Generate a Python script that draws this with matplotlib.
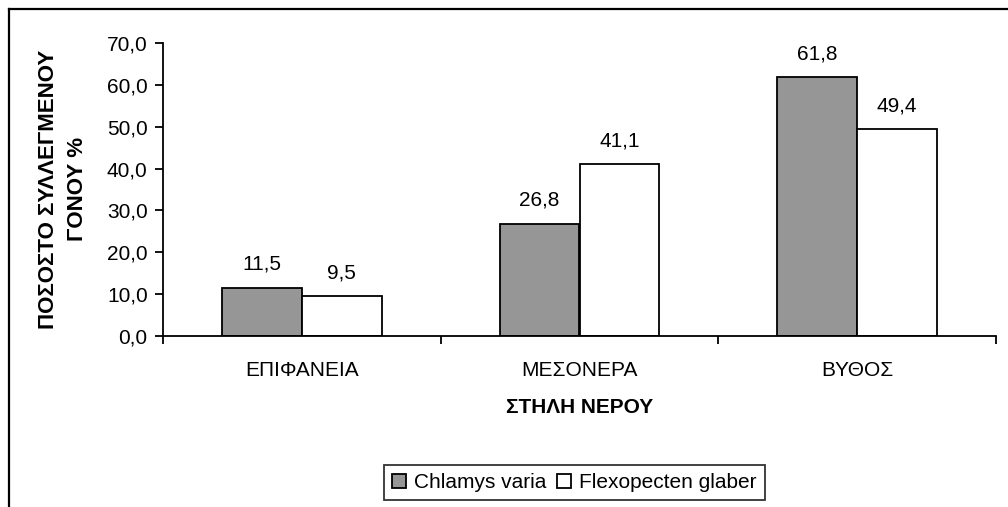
import numpy as np
import matplotlib
matplotlib.use("Agg")
import matplotlib.pyplot as plt
from matplotlib.lines import Line2D
from matplotlib.ticker import FuncFormatter, FixedLocator

plt.rcParams['font.family'] = ['Liberation Sans', 'DejaVu Sans']

# data
categories = ["ΕΠΙΦΑΝΕΙΑ", "ΜΕΣΟΝΕΡΑ", "ΒΥΘΟΣ"]
chlamys = [11.5, 26.8, 61.8]
flexopecten = [9.5, 41.1, 49.4]
series_names = ["Chlamys varia", "Flexopecten glaber"]

FS = 15
W = 0.288

fig = plt.figure(figsize=(10.08, 5.07), dpi=100)
ax = fig.add_axes([163 / 1008, 1 - 336 / 507, (996 - 163) / 1008, (336 - 43) / 507])

x = np.arange(len(categories))
b1 = ax.bar(x - W / 2, chlamys, W, color="#969696", edgecolor="black", linewidth=1.3,
            label=series_names[0])
b2 = ax.bar(x + W / 2, flexopecten, W, color="white", edgecolor="black", linewidth=1.3,
            label=series_names[1])

comma = lambda v: f"{v:.1f}".replace(".", ",")
ax.bar_label(b1, labels=[comma(v) for v in chlamys], padding=10, fontsize=FS)
ax.bar_label(b2, labels=[comma(v) for v in flexopecten], padding=10, fontsize=FS)

ax.set_xlim(-0.5, len(categories) - 0.5)
ax.set_ylim(0, 70)
ax.set_yticks(np.arange(0, 71, 10))
ax.yaxis.set_major_formatter(FuncFormatter(lambda v, p: comma(v)))
ax.tick_params(axis="y", direction="out", length=6, width=1.3, labelsize=FS, pad=5)

ax.set_xticks(x)
ax.set_xticklabels(categories)
ax.xaxis.set_minor_locator(FixedLocator(np.arange(-0.5, len(categories), 1.0)))
ax.tick_params(axis="x", which="major", length=0, labelsize=FS, pad=18)
ax.tick_params(axis="x", which="minor", direction="out", length=6, width=1.3)

for s in ["top", "right"]:
    ax.spines[s].set_visible(False)
for s in ["left", "bottom"]:
    ax.spines[s].set_linewidth(1.3)

ax.set_xlabel("ΣΤΗΛΗ ΝΕΡΟΥ", fontsize=FS, fontweight="bold", labelpad=13)
fig.text(63 / 1008, 1 - 189 / 507, "ΠΟΣΟΣΤΟ ΣΥΛΛΕΓΜΕΝΟΥ\nΓΟΝΟΥ %", rotation=90,
         ha="center", va="center", multialignment="center", fontsize=16,
         fontweight="bold", linespacing=1.45)

leg = fig.legend(loc="center", bbox_to_anchor=(574.5 / 1008, 1 - 482.5 / 507), ncol=2,
                 fontsize=FS, frameon=True, fancybox=False, handlelength=0.65,
                 handleheight=0.65, handletextpad=0.4, columnspacing=0.5, borderpad=0.4)
leg.get_frame().set_edgecolor("black")
leg.get_frame().set_linewidth(1.3)

# chart area border (only left and top visible in the crop)
fig.add_artist(Line2D([8.5 / 1008, 8.5 / 1008], [0, 1 - 9 / 507], transform=fig.transFigure,
                      color="black", linewidth=1.6))
fig.add_artist(Line2D([8.5 / 1008, 1], [1 - 9 / 507, 1 - 9 / 507], transform=fig.transFigure,
                      color="black", linewidth=1.6))

fig.savefig("out.png", dpi=100)
